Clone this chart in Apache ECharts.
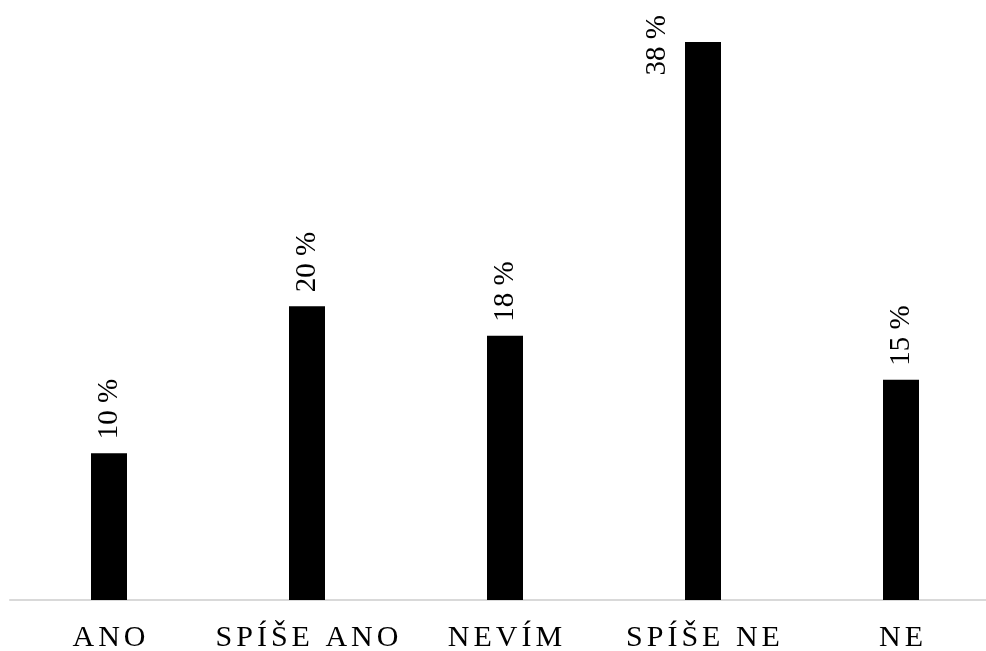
<!DOCTYPE html>
<html>
<head>
<meta charset="utf-8">
<script src="https://cdn.jsdelivr.net/npm/echarts@6/dist/echarts.min.js"></script>
<style>
  html, body { margin: 0; padding: 0; background: #fff; }
  #chart { width: 986px; height: 651px; }
</style>
</head>
<body>
<div id="chart"></div>
<script>
// Survey answers and their shares in percent
const categories = ['ANO', 'SPÍŠE ANO', 'NEVÍM', 'SPÍŠE NE', 'NE'];
const shares = [10, 20, 18, 38, 15];

const FONT = '"Liberation Serif", "Times New Roman", serif';

const barData = shares.map((v) => {
  const item = { value: v };
  // the tallest bar carries its label beside it, to the left
  if (v === Math.max(...shares)) {
    item.label = {
      position: [-28, -27],
      align: 'right',
      verticalAlign: 'middle'
    };
  }
  return item;
});

// spaced-out capitals: every character is its own rich fragment with side padding
const spaced = (s) => Array.from(s).map(ch => '{c|' + ch + '}').join('');

const chart = echarts.init(document.getElementById('chart'), null, { renderer: 'canvas' });
chart.setOption({
  animation: false,
  backgroundColor: '#ffffff',
  grid: {
    left: 10, right: -14, top: 12.6, bottom: 51,
    containLabel: false,
    outerBoundsMode: 'none'
  },
  xAxis: {
    type: 'category',
    data: categories,
    axisLine: { show: true, lineStyle: { color: '#d9d9d9', width: 2 } },
    axisTick: { show: false },
    axisLabel: {
      interval: 0,
      hideOverlap: false,
      color: '#000',
      fontFamily: FONT,
      fontSize: 30,
      margin: 23,
      formatter: spaced,
      rich: {
        c: {
          color: '#000',
          fontFamily: FONT,
          fontSize: 30,
          padding: [0, 2, 0, 2]
        }
      }
    }
  },
  yAxis: {
    type: 'value',
    min: 0,
    max: 40,
    show: false,
    splitLine: { show: false }
  },
  series: [{
    type: 'bar',
    data: barData,
    barWidth: 36,
    itemStyle: { color: '#000' },
    label: {
      show: true,
      position: 'top',
      distance: 14,
      rotate: 90,
      align: 'left',
      verticalAlign: 'middle',
      color: '#000',
      fontFamily: FONT,
      fontSize: 29,
      formatter: p => p.value + ' %'
    }
  }]
});
</script>
</body>
</html>
